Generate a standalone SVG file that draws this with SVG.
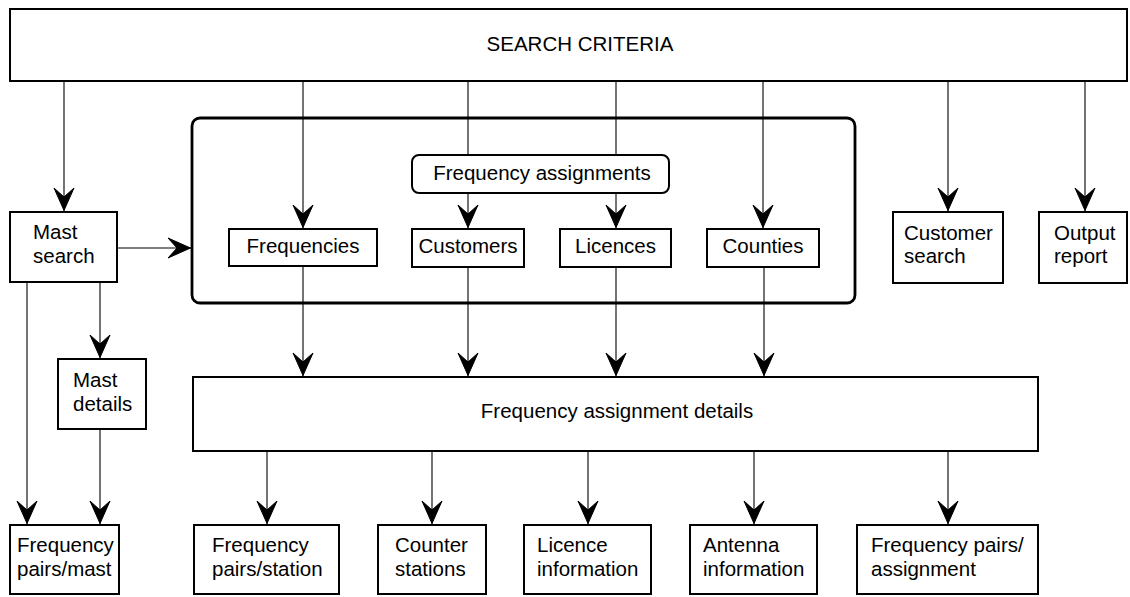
<svg xmlns="http://www.w3.org/2000/svg" width="1130" height="597" viewBox="0 0 1130 597">
<style>
  .box { fill: #fff; stroke: #000; stroke-width: 2; }
  .cont { fill: none; stroke: #000; stroke-width: 2.8; }
  .ln { stroke: #000; stroke-width: 1.1; fill: none; }
  text { font-family: "Liberation Sans", Arial, sans-serif; font-size: 20.5px; fill: #000; }
  .c { text-anchor: middle; }
</style>
<defs>
  <marker id="ah" viewBox="-25 -12 26 24" refX="0" refY="0" markerWidth="26" markerHeight="24" markerUnits="userSpaceOnUse" orient="auto">
    <path d="M-0.5,0 L-23,-10 L-14,0 L-23,10 Z" fill="#000" stroke="#000" stroke-width="1" stroke-linejoin="round"/>
  </marker>
</defs>
<rect width="1130" height="597" fill="#fff"/>
<g id="connectors">
  <line class="ln" x1="64" y1="81" x2="64" y2="211" marker-end="url(#ah)"/>
  <line class="ln" x1="303" y1="81" x2="303" y2="228" marker-end="url(#ah)"/>
  <line class="ln" x1="468" y1="81" x2="468" y2="228" marker-end="url(#ah)"/>
  <line class="ln" x1="616" y1="81" x2="616" y2="228" marker-end="url(#ah)"/>
  <line class="ln" x1="763" y1="81" x2="763" y2="228" marker-end="url(#ah)"/>
  <line class="ln" x1="948" y1="81" x2="948" y2="211" marker-end="url(#ah)"/>
  <line class="ln" x1="1085" y1="81" x2="1085" y2="211" marker-end="url(#ah)"/>
  <line class="ln" x1="117" y1="248" x2="191" y2="248" marker-end="url(#ah)"/>
  <line class="ln" x1="27" y1="282" x2="27" y2="524" marker-end="url(#ah)"/>
  <line class="ln" x1="100" y1="282" x2="100" y2="358" marker-end="url(#ah)"/>
  <line class="ln" x1="100" y1="429" x2="100" y2="524" marker-end="url(#ah)"/>
  <line class="ln" x1="303" y1="266" x2="303" y2="376" marker-end="url(#ah)"/>
  <line class="ln" x1="468" y1="267" x2="468" y2="376" marker-end="url(#ah)"/>
  <line class="ln" x1="616" y1="267" x2="616" y2="376" marker-end="url(#ah)"/>
  <line class="ln" x1="764" y1="267" x2="764" y2="376" marker-end="url(#ah)"/>
  <line class="ln" x1="267" y1="451" x2="267" y2="524" marker-end="url(#ah)"/>
  <line class="ln" x1="432" y1="451" x2="432" y2="524" marker-end="url(#ah)"/>
  <line class="ln" x1="588" y1="451" x2="588" y2="524" marker-end="url(#ah)"/>
  <line class="ln" x1="754" y1="451" x2="754" y2="524" marker-end="url(#ah)"/>
  <line class="ln" x1="948" y1="451" x2="948" y2="524" marker-end="url(#ah)"/>
</g>
<g id="search-criteria">
  <rect class="box" x="10" y="9" width="1117" height="72"/>
  <text class="c" x="580" y="51">SEARCH CRITERIA</text>
</g>
<g id="frequency-assignments-group">
  <rect class="cont" x="192" y="118" width="663" height="185" rx="8"/>
</g>
<g id="frequency-assignments">
  <rect class="box" x="412" y="155" width="257" height="38" rx="7"/>
  <text class="c" x="542" y="180">Frequency assignments</text>
</g>
<g id="mast-search">
  <rect class="box" x="10" y="212" width="107" height="70"/>
  <text x="33" y="239">Mast</text>
  <text x="33" y="263">search</text>
</g>
<g id="frequencies">
  <rect class="box" x="229" y="229" width="148" height="37"/>
  <text class="c" x="303" y="253">Frequencies</text>
</g>
<g id="customers">
  <rect class="box" x="412" y="229" width="112" height="38"/>
  <text class="c" x="468" y="253">Customers</text>
</g>
<g id="licences">
  <rect class="box" x="560" y="229" width="111" height="38"/>
  <text class="c" x="615.5" y="253">Licences</text>
</g>
<g id="counties">
  <rect class="box" x="707" y="229" width="112" height="38"/>
  <text class="c" x="763" y="253">Counties</text>
</g>
<g id="customer-search">
  <rect class="box" x="893" y="212" width="110" height="71"/>
  <text x="904" y="240">Customer</text>
  <text x="904" y="263">search</text>
</g>
<g id="output-report">
  <rect class="box" x="1039" y="212" width="88" height="71"/>
  <text x="1054" y="240">Output</text>
  <text x="1054" y="263">report</text>
</g>
<g id="mast-details">
  <rect class="box" x="58" y="359" width="88" height="70"/>
  <text x="73" y="387">Mast</text>
  <text x="73" y="411">details</text>
</g>
<g id="frequency-assignment-details">
  <rect class="box" x="193" y="377" width="845" height="74"/>
  <text class="c" x="617" y="418">Frequency assignment details</text>
</g>
<g id="frequency-pairs-mast">
  <rect class="box" x="10" y="525" width="109" height="69"/>
  <text x="17" y="552">Frequency</text>
  <text x="17" y="576">pairs/mast</text>
</g>
<g id="frequency-pairs-station">
  <rect class="box" x="194" y="525" width="145" height="69"/>
  <text x="212" y="552">Frequency</text>
  <text x="212" y="576">pairs/station</text>
</g>
<g id="counter-stations">
  <rect class="box" x="378" y="525" width="108" height="69"/>
  <text x="395" y="552">Counter</text>
  <text x="395" y="576">stations</text>
</g>
<g id="licence-information">
  <rect class="box" x="524" y="525" width="127" height="69"/>
  <text x="537" y="552">Licence</text>
  <text x="537" y="576">information</text>
</g>
<g id="antenna-information">
  <rect class="box" x="690" y="525" width="127" height="69"/>
  <text x="703" y="552">Antenna</text>
  <text x="703" y="576">information</text>
</g>
<g id="frequency-pairs-assignment">
  <rect class="box" x="857" y="525" width="181" height="69"/>
  <text x="871" y="552">Frequency pairs/</text>
  <text x="871" y="576">assignment</text>
</g>
</svg>
